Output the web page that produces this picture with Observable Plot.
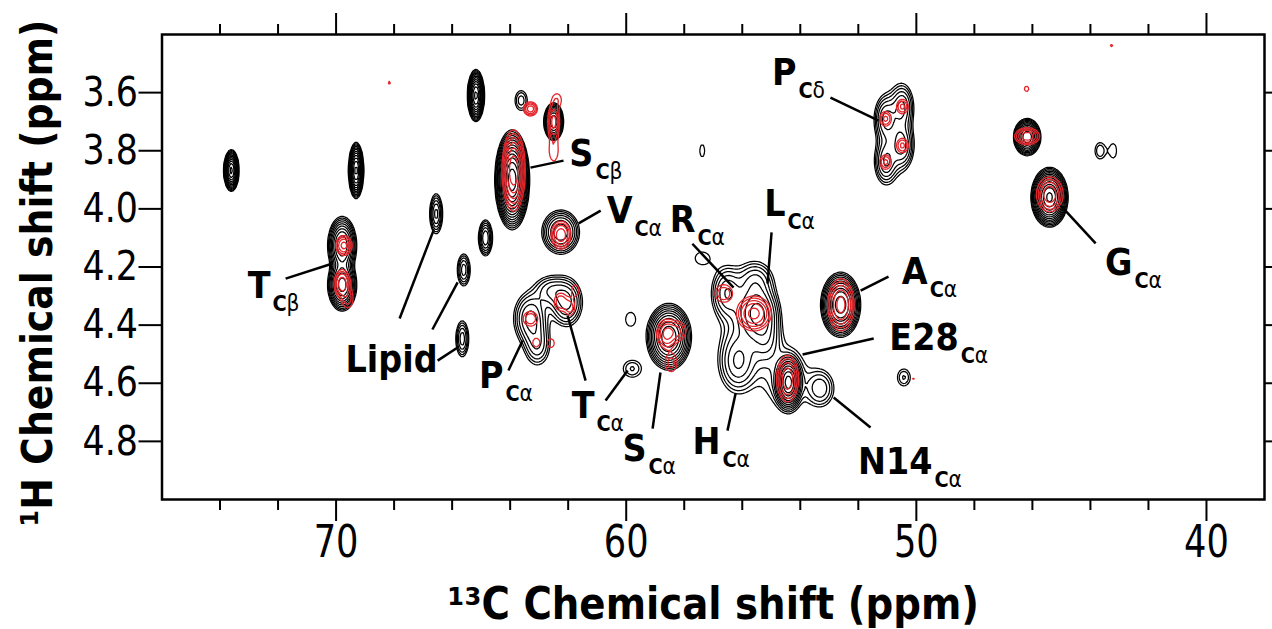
<!DOCTYPE html>
<html>
<head>
<meta charset="utf-8">
<script src="https://cdn.jsdelivr.net/npm/d3@7"></script>
<script src="https://cdn.jsdelivr.net/npm/@observablehq/plot@0.6"></script>
<style>
  html, body { margin: 0; padding: 0; background: #fff; }
  #chart { width: 1272px; height: 629px; }
</style>
</head>
<body>
<div id="chart"></div>
<script>
// ---------- Axis ticks ----------
const xMajorTicks = [70, 60, 50, 40];
const xMinorTicks = [74, 72, 68, 66, 64, 62, 58, 56, 54, 52, 48, 46, 44, 42];
const yTicks = [3.6, 3.8, 4.0, 4.2, 4.4, 4.6, 4.8];
const xTitle = ["¹³C Chemical shift (ppm)"];
const yTitle = ["¹H Chemical shift (ppm)"];

// ---------- Black spectrum peaks (13C ppm, 1H ppm, height, base-contour half-width C, H) ----------
const blackC   = [73.61, 69.31, 65.18, 66.55, 64.85, 65.60, 65.65, 63.62, 62.50, 63.93, 62.26, 69.79, 69.79,
                  51.06, 50.48, 50.48, 51.06, 46.18, 43.67, 43.21, 45.41, 57.38,
                  63.30, 63.06, 62.06, 62.61, 59.85, 59.79, 58.53, 57.38,
                  56.54, 55.47, 55.54, 56.16, 54.41, 53.30, 55.19, 52.61, 50.43,
                  54.50, 55.90, 50.75];
const blackH   = [3.868, 3.868, 3.610, 4.017, 4.100, 4.210, 4.447, 3.627, 3.700, 3.900, 4.080, 4.126, 4.262,
                  3.690, 3.648, 3.782, 3.839, 3.753, 3.800, 3.800, 3.960, 3.800,
                  4.377, 4.470, 4.322, 4.281, 4.380, 4.550, 4.440, 4.170,
                  4.288, 4.357, 4.247, 4.529, 4.597, 4.618, 4.446, 4.330, 4.580,
                  4.580, 4.400, 3.740];
const blackAmp = [30, 30, 30, 5, 6, 4, 4, 2.2, 15, 60, 8, 15, 18,
                  4, 4, 4, 4, 20, 1.8, 1.3, 40, 1.3,
                  5, 3, 5, 3, 1.3, 1.9, 20, 1.3,
                  4, 8, 3, 4, 30, 3, 3, 25, 1.9,
                  2, 1.8, 2];
const blackHwC = [0.26, 0.26, 0.29, 0.22, 0.24, 0.22, 0.22, 0.21, 0.34, 0.60, 0.65, 0.50, 0.50,
                  0.36, 0.36, 0.36, 0.36, 0.47, 0.17, 0.11, 0.64, 0.086,
                  0.58, 0.41, 0.55, 0.52, 0.17, 0.31, 0.78, 0.24,
                  0.50, 0.75, 0.55, 0.62, 0.48, 0.45, 0.45, 0.69, 0.22,
                  0.70, 0.62, 0.42];
const blackHwH = [0.072, 0.097, 0.090, 0.069, 0.062, 0.055, 0.062, 0.034, 0.065, 0.172, 0.076, 0.100, 0.090,
                  0.072, 0.072, 0.072, 0.072, 0.064, 0.028, 0.024, 0.103, 0.021,
                  0.090, 0.066, 0.083, 0.048, 0.024, 0.029, 0.115, 0.021,
                  0.085, 0.100, 0.060, 0.100, 0.096, 0.060, 0.075, 0.112, 0.029,
                  0.095, 0.120, 0.110];

// ---------- Red spectrum peaks ----------
const redC   = [68.16, 63.30, 62.50, 62.38, 62.50, 63.88, 62.25, 69.73, 69.79, 69.60,
                63.30, 62.26, 61.93, 61.75, 63.10, 62.60, 58.60, 58.20, 58.45,
                56.64, 55.60, 54.44, 52.60, 51.06, 50.48, 50.48, 51.06, 46.20, 46.18, 45.40, 43.27, 50.10];
const redH   = [3.566, 3.656, 3.700, 3.625, 3.800, 3.868, 4.090, 4.126, 4.257, 4.310,
                4.378, 4.320, 4.340, 4.280, 4.460, 4.462, 4.430, 4.420, 4.530,
                4.291, 4.360, 4.584, 4.330, 3.690, 3.648, 3.782, 3.839, 3.587, 3.750, 3.950, 3.438, 4.584];
const redAmp = [1.2, 6, 5, 1.5, 1.5, 15, 6, 5, 6, 2,
                2.5, 2.5, 2, 1.5, 1.5, 1.5, 5, 2.5, 2,
                2.5, 8, 6, 8, 3, 3, 3, 3, 1.3, 6, 6, 1.2, 1.1];
const redHwC = [0.05, 0.24, 0.20, 0.14, 0.15, 0.40, 0.34, 0.28, 0.28, 0.18,
                0.25, 0.22, 0.15, 0.12, 0.12, 0.12, 0.35, 0.25, 0.20,
                0.30, 0.60, 0.38, 0.45, 0.20, 0.20, 0.20, 0.20, 0.08, 0.43, 0.46, 0.05, 0.05];
const redHwH = [0.005, 0.024, 0.060, 0.020, 0.035, 0.140, 0.048, 0.034, 0.048, 0.030,
                0.025, 0.030, 0.025, 0.018, 0.015, 0.015, 0.050, 0.030, 0.030,
                0.030, 0.060, 0.080, 0.090, 0.025, 0.025, 0.025, 0.025, 0.009, 0.029, 0.060, 0.005, 0.003];

// contour levels
const blackLevels = [1, 1.35, 1.82, 2.46, 3.32, 4.48, 6.05, 8.17, 11.0, 14.9, 20.1, 27.1, 36.6, 49.4, 66.7];
const redLevels = [1, 1.6, 2.56, 4.1, 6.55, 10.5, 16.8];

// ---------- Assignment labels ----------
const labelText  = ["P", "S", "V", "R", "L", "A", "E28", "N14", "H", "S", "T", "P", "T", "G"];
const labelGreek = ["δ", "β", "α", "α", "α", "α", "α", "α", "α", "α", "α", "α", "β", "α"];
const labelC = [54.13, 61.13, 59.78, 57.61, 54.51, 49.61, 48.54, 49.44, 56.75, 59.30, 61.09, 64.23, 72.26, 42.55];
const labelH = [3.575, 3.851, 4.047, 4.081, 4.023, 4.257, 4.487, 4.911, 4.842, 4.866, 4.721, 4.618, 4.305, 4.229];
const lipidLabel = ["Lipid"];
const lipidC = [66.50];
const lipidH = [4.563];

// leader lines
const leadC1 = [52.96, 63.30, 61.64, 57.72, 54.99, 50.96, 51.47, 51.58, 56.51, 59.09, 60.71, 61.40, 64.06, 67.81, 66.68, 66.50, 71.74, 43.82];
const leadH1 = [3.617, 3.858, 4.050, 4.120, 4.081, 4.233, 4.446, 4.752, 4.763, 4.756, 4.659, 4.591, 4.556, 4.377, 4.415, 4.522, 4.240, 4.119];
const leadC2 = [51.30, 62.16, 60.88, 56.30, 55.13, 51.92, 53.92, 52.85, 56.23, 58.82, 59.95, 62.02, 63.57, 66.64, 65.81, 65.81, 70.12, 45.03];
const leadH2 = [3.696, 3.834, 4.006, 4.271, 4.257, 4.281, 4.501, 4.649, 4.635, 4.563, 4.556, 4.367, 4.453, 4.074, 4.253, 4.477, 4.188, 3.988];

// ---------- Spectrum field from peak list ----------
function spectrum(C, H, A, WC, WH) {
  const peaks = C.map((c, i) => {
    const s = Math.sqrt(2 * Math.log(A[i]));
    return {c, h: H[i], a: A[i], sc: WC[i] / s, sh: WH[i] / s};
  });
  return (x, y) => {
    let v = 0;
    for (const p of peaks) {
      const dx = (x - p.c) / p.sc;
      if (dx > 8 || dx < -8) continue;
      const dy = (y - p.h) / p.sh;
      if (dy > 8 || dy < -8) continue;
      v += p.a * Math.exp(-0.5 * (dx * dx + dy * dy));
    }
    return v;
  };
}
const blackField = spectrum(blackC, blackH, blackAmp, blackHwC, blackHwH);
const redField = spectrum(redC, redH, redAmp, redHwC, redHwH);

const bold = "bold";
const chart = Plot.plot({
  width: 1272,
  height: 629,
  marginLeft: 161.5,
  marginRight: 8,
  marginTop: 34,
  marginBottom: 130,
  style: {fontFamily: "'DejaVu Sans', sans-serif", background: "white", color: "black"},
  x: {domain: [76, 38], label: null},
  y: {domain: [3.4, 5.0], reverse: true, label: null},
  marks: [
    Plot.contour({x1: 76, x2: 38, y1: 3.4, y2: 5.0, value: blackField, thresholds: blackLevels,
      stroke: "black", strokeWidth: 1.25, fill: "none"}),
    Plot.contour({x1: 76, x2: 38, y1: 3.4, y2: 5.0, value: redField, thresholds: redLevels,
      stroke: "#e3262c", strokeWidth: 1.3, fill: "none"}),
    Plot.frame({stroke: "black", strokeWidth: 2.5}),
    Plot.axisX(xMinorTicks, {anchor: "bottom", tickSize: 11, strokeWidth: 2, tickFormat: () => "", label: null}),
    Plot.axisX(xMajorTicks, {anchor: "bottom", tickSize: 22, strokeWidth: 2, tickPadding: 4,
      tickFormat: (d) => String(d), fontSize: 44, label: null}),
    Plot.axisX(xMinorTicks, {anchor: "top", tickSize: 11, strokeWidth: 2, tickFormat: () => "", label: null}),
    Plot.axisX(xMajorTicks, {anchor: "top", tickSize: 22, strokeWidth: 2, tickFormat: () => "", label: null}),
    Plot.axisY(yTicks, {anchor: "left", tickSize: 23, strokeWidth: 2, tickPadding: 1,
      tickFormat: (d) => d.toFixed(1), fontSize: 41, label: null}),
    Plot.axisY(yTicks, {anchor: "right", tickSize: 23, strokeWidth: 2, tickFormat: () => "", label: null}),
    Plot.link(leadC1, {x1: leadC1, y1: leadH1, x2: leadC2, y2: leadH2, stroke: "black", strokeWidth: 2.5}),
    Plot.text(labelText, {x: labelC, y: labelH, text: labelText, textAnchor: "end", lineAnchor: "bottom",
      fontSize: 38, fontWeight: bold, fill: "black", ariaLabel: "label main"}),
    Plot.text(labelText, {x: labelC, y: labelH, text: () => "C", textAnchor: "start", lineAnchor: "bottom",
      dx: 2, dy: 13, fontSize: 22, fontWeight: bold, fill: "black", ariaLabel: "label sub"}),
    Plot.text(labelGreek, {x: labelC, y: labelH, text: labelGreek, textAnchor: "start", lineAnchor: "bottom",
      dx: 16, dy: 13, fontSize: 23, fontWeight: "normal", fill: "black", ariaLabel: "label greek"}),
    Plot.text(lipidLabel, {x: lipidC, y: lipidH, text: lipidLabel, textAnchor: "end", lineAnchor: "bottom",
      fontSize: 38, fontWeight: bold, fill: "black", ariaLabel: "label lipid"}),
    Plot.text(xTitle, {frameAnchor: "bottom", text: (d) => d, dy: 105, textAnchor: "middle", lineAnchor: "middle",
      fontSize: 44, fontWeight: bold, fill: "black", ariaLabel: "x title"}),
    Plot.text(yTitle, {frameAnchor: "left", text: (d) => d, rotate: -90, dx: -124, dy: 6, textAnchor: "middle", lineAnchor: "middle",
      fontSize: 43, fontWeight: bold, fill: "black", ariaLabel: "y title"})
  ]
});

// horizontally condense glyphs (the reference uses a narrow face)
chart.querySelectorAll("text").forEach((t) => {
  const g = t.closest("g[aria-label]");
  const name = g ? g.getAttribute("aria-label") : "";
  const k = name.startsWith("x-axis") ? 0.8 : name.startsWith("y-axis") ? 0.85 : 0.88;
  const tr = t.getAttribute("transform");
  if (tr) t.setAttribute("transform", `${tr} scale(${k},1)`);
  else {
    const x = +t.getAttribute("x") || 0;
    t.setAttribute("transform", `translate(${x},0) scale(${k},1) translate(${-x},0)`);
  }
});

document.getElementById("chart").appendChild(chart);
</script>
</body>
</html>
